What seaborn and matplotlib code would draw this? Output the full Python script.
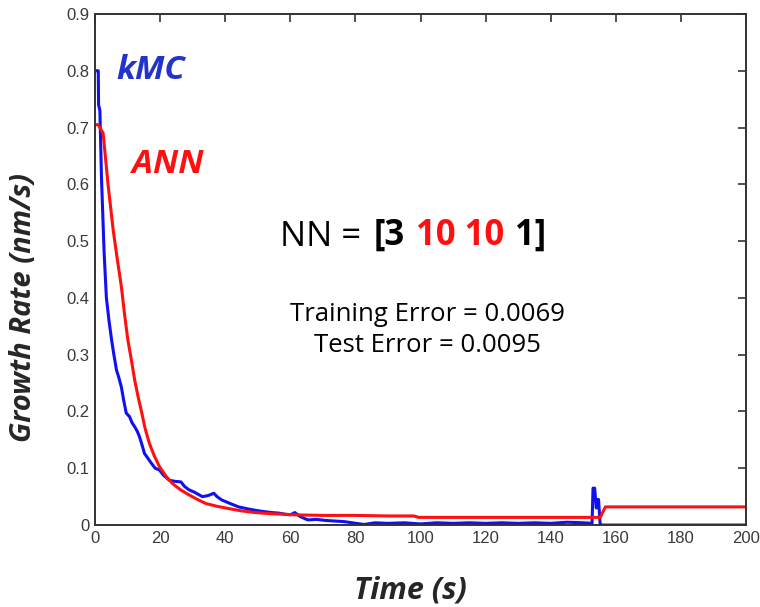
import matplotlib
matplotlib.use("Agg")
import matplotlib.pyplot as plt
import seaborn as sns

# ----------------------------------------------------------------------------
# Data
# ----------------------------------------------------------------------------
KMC_TIME = [0, 1.0, 1.1, 1.5, 2.0, 2.8, 3.5, 4.3, 5.1, 5.8, 6.6, 7.3, 8.1,
            8.8, 9.6, 10.6, 11.4, 12.2, 13.0, 13.7, 14.5, 15.2, 16.2, 17.3,
            18.5, 19.8, 21.0, 22.8, 24.5, 26.4, 27.5, 28.9, 30.5, 33.0, 34.8,
            36.5, 37.5, 39.0, 41.5, 44.1, 46.5, 49.2, 51.5, 54.3, 56.5, 58.4,
            60.0, 61.4, 63.0, 65.4, 68, 71, 74, 76.6, 79, 82.7, 86, 90, 95,
            100, 105, 110, 115, 120, 125, 130, 135, 140, 145, 150, 152.7,
            153.0, 153.5, 154.0, 154.3, 154.7, 155.2, 155.5, 160, 180, 200]
KMC_RATE = [0.80, 0.80, 0.74, 0.73, 0.61, 0.48, 0.40, 0.36, 0.326, 0.30,
            0.273, 0.26, 0.243, 0.22, 0.197, 0.191, 0.18, 0.173, 0.165, 0.155,
            0.14, 0.126, 0.118, 0.109, 0.10, 0.097, 0.088, 0.079, 0.077, 0.076,
            0.068, 0.062, 0.058, 0.050, 0.052, 0.056, 0.050, 0.044, 0.038,
            0.032, 0.029, 0.026, 0.024, 0.022, 0.021, 0.019, 0.018, 0.022,
            0.015, 0.009, 0.010, 0.008, 0.007, 0.006, 0.004, 0.001, 0.004,
            0.003, 0.004, 0.002, 0.004, 0.003, 0.004, 0.003, 0.004, 0.003,
            0.004, 0.003, 0.005, 0.004, 0.003, 0.065, 0.065, 0.03, 0.045,
            0.045, 0.0, 0.0, 0.0, 0.0, 0.0]

ANN_TIME = [0, 1, 2.5, 4, 5.6, 6.8, 8.1, 9.1, 10.1, 11.2, 12.2, 13.2, 14.2,
            15.4, 16.7, 18.2, 19.8, 21.8, 23.8, 26.3, 28.9, 31.5, 34, 37.5,
            41.1, 45, 49.2, 54, 58.4, 61.4, 70, 80, 90, 97.9, 99.5, 120, 140,
            155.2, 156.8, 170, 200]
ANN_RATE = [0.705, 0.705, 0.69, 0.60, 0.519, 0.47, 0.42, 0.37, 0.326, 0.29,
            0.255, 0.227, 0.202, 0.17, 0.144, 0.122, 0.103, 0.086, 0.073,
            0.062, 0.053, 0.045, 0.038, 0.033, 0.029, 0.025, 0.022, 0.020,
            0.019, 0.018, 0.017, 0.017, 0.016, 0.016, 0.0135, 0.0135, 0.0135,
            0.0135, 0.032, 0.032, 0.032]

X_TICKS = list(range(0, 201, 20))
Y_TICKS = [0, 0.1, 0.2, 0.3, 0.4, 0.5, 0.6, 0.7, 0.8, 0.9]

BLUE = "#1010f0"
RED = "#ff1010"
TEXT_FONT = ["Open Sans", "DejaVu Sans"]

# ----------------------------------------------------------------------------
# Plot
# ----------------------------------------------------------------------------
sns.set_style("white")
plt.rcParams["font.family"] = ["Liberation Sans", "DejaVu Sans"]

fig = plt.figure(figsize=(7.6, 6.07), dpi=100)
ax = fig.add_axes([0.125, 0.135, 0.8566, 0.842])

sns.lineplot(x=KMC_TIME, y=KMC_RATE, color=BLUE, linewidth=2.2,
             estimator=None, sort=False, ax=ax)
sns.lineplot(x=ANN_TIME, y=ANN_RATE, color=RED, linewidth=2.2,
             estimator=None, sort=False, ax=ax)

ax.set_xlim(0, 200)
ax.set_ylim(0, 0.9)
ax.set_xticks(X_TICKS)
ax.set_yticks(Y_TICKS)
ax.set_yticklabels(["0" if v == 0 else f"{v:.1f}" for v in Y_TICKS])
ax.tick_params(direction="in", length=6, width=1.2, top=True, right=True,
               labelsize=12, labelcolor="#3a3a3a", color="#333333", pad=4)
for sp in ax.spines.values():
    sp.set_color("#333333")
    sp.set_linewidth(1.4)

ax.set_xlabel("Time (s)", fontsize=22, fontweight="bold", style="italic",
              family=TEXT_FONT)
ax.set_ylabel("Growth Rate (nm/s)", fontsize=21, fontweight="bold",
              style="italic", family=TEXT_FONT)
ax.xaxis.set_label_coords(0.484, -0.098)
ax.yaxis.set_label_coords(-0.088, 0.425)

ax.text(6.5, 0.80, "kMC", color="#2233cc", fontsize=24, fontweight="bold",
        style="italic", family=TEXT_FONT, va="center")
ax.text(11.5, 0.635, "ANN", color=RED, fontsize=24, fontweight="bold",
        style="italic", family=TEXT_FONT, va="center")

# multi-coloured "NN = [3 10 10 1]"
t0 = ax.text(56.8, 0.507, "NN =", fontsize=25, family=TEXT_FONT,
             color="black", va="center")
t1 = ax.annotate("[3", xy=(1, 0), xycoords=t0, xytext=(9, 0),
                 textcoords="offset points", fontsize=25, fontweight="bold",
                 family=TEXT_FONT, color="black", va="bottom")
t2 = ax.annotate("10 10", xy=(1, 0), xycoords=t1, xytext=(8, 0),
                 textcoords="offset points", fontsize=25, fontweight="bold",
                 family=TEXT_FONT, color=RED, va="bottom")
ax.annotate("1]", xy=(1, 0), xycoords=t2, xytext=(8, 0),
            textcoords="offset points", fontsize=25, fontweight="bold",
            family=TEXT_FONT, color="black", va="bottom")

ax.text(102, 0.343, "Training Error = 0.0069\nTest Error = 0.0095",
        fontsize=18.5, family=TEXT_FONT, color="black", ha="center",
        va="center", linespacing=1.3)

fig.savefig("out.png", dpi=100)
